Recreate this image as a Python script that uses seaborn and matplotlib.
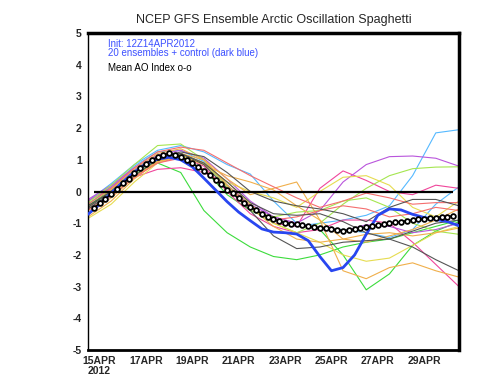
import matplotlib
matplotlib.use("Agg")
import matplotlib.pyplot as plt
import numpy as np
import pandas as pd
import seaborn as sns

# days since 12Z14APR2012
member_days = list(range(17))
control_days = [i * 0.5 for i in range(33)]
mean_days = [0.25 + i * 0.25 for i in range(63)]

members = {
    "lightblue1": [-0.4, 0.15, 0.8, 1.25, 1.3, 0.95, 0.2, -0.45, -0.9, -1.1, -1.0, -0.9, -0.75, -0.45, 0.5, 1.85, 1.95],
    "lightblue2": [-0.3, 0.25, 0.85, 1.3, 1.45, 1.25, 0.85, 0.55, -0.3, -1.0, -1.15, -1.2, -1.3, -1.45, -1.2, -0.4, 0.15],
    "green1": [-0.5, 0.0, 0.55, 0.9, 0.6, -0.6, -1.3, -1.75, -2.05, -2.15, -2.0, -1.75, -1.6, -1.5, -1.3, -1.1, -0.9],
    "green2": [-0.45, 0.05, 0.6, 1.0, 1.1, 0.7, -0.1, -0.6, -0.9, -1.0, -1.2, -2.0, -3.1, -2.6, -1.7, -1.25, -0.95],
    "pink1": [-0.3, 0.1, 0.45, 0.7, 0.75, 0.6, 0.2, -0.4, -1.0, -1.1, 0.1, 0.65, 0.35, 0.0, -0.1, 0.2, 0.1],
    "pink2": [-0.55, -0.1, 0.5, 0.9, 1.1, 0.8, 0.0, -0.7, -1.1, -1.3, -1.2, -0.9, -0.9, -1.0, -1.6, -2.3, -3.0],
    "purple1": [-0.3, 0.15, 0.7, 1.1, 1.2, 0.9, 0.2, -0.4, -0.8, -1.0, -0.6, 0.3, 0.85, 1.1, 1.12, 1.05, 0.8],
    "purple2": [-0.25, 0.2, 0.75, 1.15, 1.3, 1.05, 0.4, -0.3, -0.8, -1.0, -1.2, -1.25, -1.05, -1.1, -1.3, -1.2, -1.0],
    "lime1": [-0.35, 0.2, 0.85, 1.45, 1.5, 1.0, 0.2, -0.5, -1.0, -1.3, -1.0, -0.4, 0.1, 0.5, 0.72, 0.77, 0.78],
    "lime2": [-0.4, 0.1, 0.65, 1.05, 1.2, 0.9, 0.15, -0.6, -0.8, -0.65, -0.6, -0.3, -0.2, -0.5, -1.0, -1.25, -1.35],
    "yellow1": [-0.6, -0.1, 0.5, 0.95, 1.15, 0.9, 0.3, 0.0, -0.2, -0.5, 0.0, 0.45, 0.5, 0.2, -0.5, -0.8, -0.3],
    "yellow2": [-0.85, -0.4, 0.3, 0.9, 1.15, 0.85, 0.3, -0.4, -1.0, -1.3, -1.6, -2.0, -2.2, -2.1, -1.7, -1.3, -1.1],
    "orange1": [-0.8, -0.3, 0.4, 0.95, 1.2, 1.0, 0.4, -0.1, 0.1, 0.3, -0.9, -2.5, -2.75, -2.4, -2.25, -2.5, -2.7],
    "orange2": [-0.5, 0.05, 0.7, 1.2, 1.35, 1.0, 0.2, -0.5, -1.1, -1.5, -1.6, -1.5, -1.35, -1.3, -1.4, -1.3, -1.15],
    "orange3": [-0.7, -0.2, 0.45, 0.95, 1.1, 0.85, 0.5, 0.3, 0.05, -0.45, -0.9, -1.5, -1.6, -1.4, -1.2, -0.9, -0.55],
    "red1": [-0.4, 0.1, 0.75, 1.25, 1.4, 1.3, 0.9, 0.5, 0.15, -0.2, -0.5, -0.3, -0.05, -0.2, -0.4, -0.35, -0.35],
    "red2": [-0.6, -0.15, 0.45, 0.9, 1.05, 0.7, 0.1, -0.45, -0.9, -0.8, -0.6, -0.45, -0.55, -0.8, -0.7, -0.5, -0.6],
    "gray1": [-0.45, 0.0, 0.6, 1.05, 1.25, 1.1, 0.6, 0.0, -0.3, -0.45, -0.55, -0.7, -0.95, -0.5, -0.25, -0.25, -0.45],
    "gray2": [-0.5, 0.0, 0.6, 1.05, 1.2, 0.9, 0.3, -0.35, -0.7, -0.75, -0.7, -0.95, -1.3, -1.5, -1.75, -2.15, -2.5],
    "gray3": [-0.55, -0.05, 0.5, 1.0, 1.2, 0.85, 0.1, -0.6, -1.4, -1.8, -1.75, -1.6, -1.55, -1.5, -1.25, -1.0, -0.9],
}

member_colors = {
    "lightblue1": "#55b9ff", "lightblue2": "#55b9ff",
    "green1": "#3cdc3c", "green2": "#3cdc3c",
    "pink1": "#f0469b", "pink2": "#f0469b",
    "purple1": "#b955dc", "purple2": "#b955dc",
    "lime1": "#a5e650", "lime2": "#a5e650",
    "yellow1": "#e6dc50", "yellow2": "#e6dc50",
    "orange1": "#f0af4b", "orange2": "#f0af4b", "orange3": "#f0af4b",
    "red1": "#f56e6e", "red2": "#f56e6e",
    "gray1": "#555555", "gray2": "#555555", "gray3": "#555555",
}

control = [-0.72, -0.4, -0.05, 0.3, 0.62, 0.88, 1.02, 1.08, 1.0, 0.78, 0.42, 0.05, -0.32,
           -0.65, -0.92, -1.18, -1.28, -1.3, -1.34, -1.55, -2.05, -2.5, -2.4, -2.0, -1.35,
           -0.75, -0.55, -0.58, -0.72, -0.82, -0.88, -0.95, -1.08]

mean_ao = [-0.52, -0.37, -0.23, -0.08, 0.08, 0.26, 0.41, 0.57, 0.73, 0.88, 1.0, 1.09, 1.16, 1.2,
           1.16, 1.09, 1.0, 0.89, 0.77, 0.65, 0.52, 0.35, 0.23, 0.06, -0.06, -0.22, -0.37, -0.48,
           -0.59, -0.7, -0.8, -0.88, -0.94, -0.98, -1.02, -1.04, -1.07, -1.1, -1.12, -1.14, -1.16,
           -1.18, -1.21, -1.23, -1.22, -1.19, -1.16, -1.12, -1.09, -1.06, -1.03, -1.0, -0.97,
           -0.95, -0.92, -0.9, -0.88, -0.86, -0.84, -0.82, -0.8, -0.79, -0.77]

tick_days = [0.5, 2.5, 4.5, 6.5, 8.5, 10.5, 12.5, 14.5]
tick_labels = ["15APR\n2012", "17APR", "19APR", "21APR", "23APR", "25APR", "27APR", "29APR"]
y_ticks = [-5, -4, -3, -2, -1, 0, 1, 2, 3, 4, 5]

sns.set_style("white")
plt.rcParams["font.family"] = ["Liberation Sans", "DejaVu Sans"]

fig = plt.figure(figsize=(4.8, 3.84), dpi=100)
ax = fig.add_axes([0.1833, 0.0885, 0.7729, 0.8255])

rows = []
for name, vals in members.items():
    for d, v in zip(member_days, vals):
        rows.append({"day": d, "ao": v, "member": name})
df = pd.DataFrame(rows)
sns.lineplot(data=df, x="day", y="ao", hue="member", palette=member_colors,
             legend=False, linewidth=0.8, ax=ax, estimator=None)

ax.hlines(0, mean_days[0], mean_days[-1], color="black", linewidth=1.6, zorder=3)

sns.lineplot(x=control_days, y=control, color="#2846f0", linewidth=2.0, ax=ax, zorder=4)
sns.lineplot(x=mean_days, y=mean_ao, color="black", linewidth=1.1, marker="o",
             markersize=3.4, markerfacecolor="white", markeredgecolor="black",
             markeredgewidth=1.3, ax=ax, zorder=5)

ax.set_xlim(0, 16)
ax.set_ylim(-5, 5)
ax.set_xticks(tick_days)
ax.set_xticklabels(tick_labels, fontsize=7.5, fontweight="bold", linespacing=0.95)
ax.set_yticks(y_ticks)
ax.set_yticklabels([str(t) for t in y_ticks], fontsize=7.5, fontweight="bold")
ax.tick_params(axis="both", direction="out", length=3, width=1, pad=1.5)
ax.set_xlabel("")
ax.set_ylabel("")

for side, lw in [("top", 2.5), ("right", 2.5), ("bottom", 2.0), ("left", 1.0)]:
    ax.spines[side].set_visible(True)
    ax.spines[side].set_linewidth(lw)
    ax.spines[side].set_color("black")

ax.set_title("NCEP GFS Ensemble Arctic Oscillation Spaghetti", fontsize=9, pad=7)

ax.text(0.054, 0.965, "Init: 12Z14APR2012", transform=ax.transAxes, fontsize=7,
        color="#3c50ff", va="center")
ax.text(0.054, 0.937, "20 ensembles + control (dark blue)", transform=ax.transAxes,
        fontsize=7, color="#3c50ff", va="center")
ax.text(0.054, 0.891, "Mean AO Index o-o", transform=ax.transAxes, fontsize=7,
        color="black", va="center")

fig.savefig("out.png", dpi=100)
